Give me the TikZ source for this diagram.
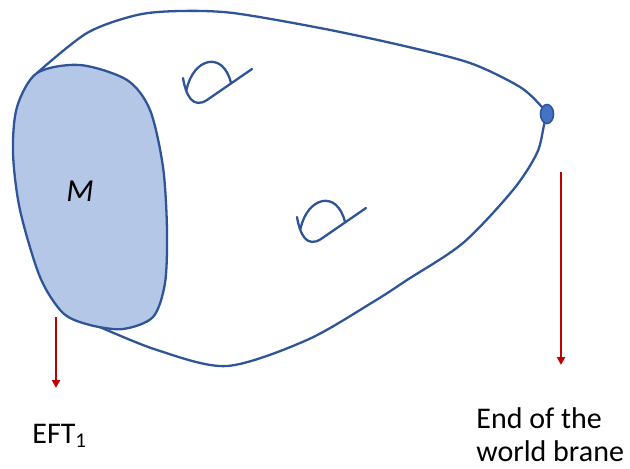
\documentclass[tikz,border=0pt]{standalone}
\usepackage{fontspec}
\setmainfont{Carlito}
\usetikzlibrary{arrows.meta,shapes.geometric}
\definecolor{braneE}{HTML}{2F5597}
\definecolor{braneF}{HTML}{B4C7E7}
\definecolor{dotF}{HTML}{4472C4}
\definecolor{redArr}{HTML}{C00000}

\begin{document}
\begin{tikzpicture}[
    x=0.5pt,y=-0.5pt,
    >={Triangle[length=4pt,width=4pt]},
    edge/.style={draw=braneE,line width=1.15pt,line join=round},
    hnd/.style={draw=braneE,line width=1.15pt,line cap=round},
    flow/.style={->,draw=redArr,fill=redArr,line width=1pt},
    lbl/.style={font=\fontsize{15}{16.5}\selectfont,inner sep=0pt},
]
\useasboundingbox (0,0) rectangle (630,468);

% =====================================================================
%  outer surface (cusp at the end of the world brane)
% =====================================================================
\draw[edge] plot[smooth] coordinates {(37,73) (87,33) (137,15) (180,11)
      (233,13) (320,28) (400,45) (470,63) (520,87) (542,107) (547,114)};
\draw[edge] plot[smooth] coordinates {(547,114) (544,125) (537,153)
      (513,190) (463,243) (407,280) (373,302) (307,340) (227,366)
      (157,350) (90,323) (63,313)};
\node[ellipse,draw=braneE,fill=dotF,line width=0.8pt,inner sep=0pt,
      minimum width=6.5pt,minimum height=9.5pt] (brane) at (547,114) {};

% =====================================================================
%  boundary region M
% =====================================================================
\draw[edge,fill=braneF] plot[smooth cycle] coordinates {(37,73) (80,65)
      (127,80) (150,110) (163,167) (167,230) (165,283) (153,317)
      (123,329) (90,325) (63,313) (40,277) (20,210) (13,153) (17,107)};
\node[lbl,font=\fontsize{16}{16.5}\selectfont\itshape] (mreg) at (80,191) {M};

% =====================================================================
%  handles (same little glyph, two places)
% =====================================================================
\foreach \hx/\hy in {183/78,297/217}{
  \begin{scope}[shift={(\hx,\hy)}]
    \draw[hnd] (0,0) .. controls (3,18) and (10,31) .. (24,22) -- (69,-9);
    \draw[hnd] (3.5,12) .. controls (10,-20) and (40,-28) .. (48,5);
  \end{scope}
}

% =====================================================================
%  arrows and labels
% =====================================================================
\coordinate (eftTop) at (56,317);
\coordinate (eftTip) at (56,388);
\coordinate (ewbTop) at (561,172);
\coordinate (ewbTip) at (561,365);
\draw[flow] (eftTop) -- (eftTip);
\draw[flow] (ewbTop) -- (ewbTip);

\node[lbl,anchor=base west] (eft) at (32,443) {EFT\textsubscript{1}};
\node[lbl,anchor=base west,align=left] (ewb) at (476,461)
     {End of the\\world brane};

\end{tikzpicture}
\end{document}
